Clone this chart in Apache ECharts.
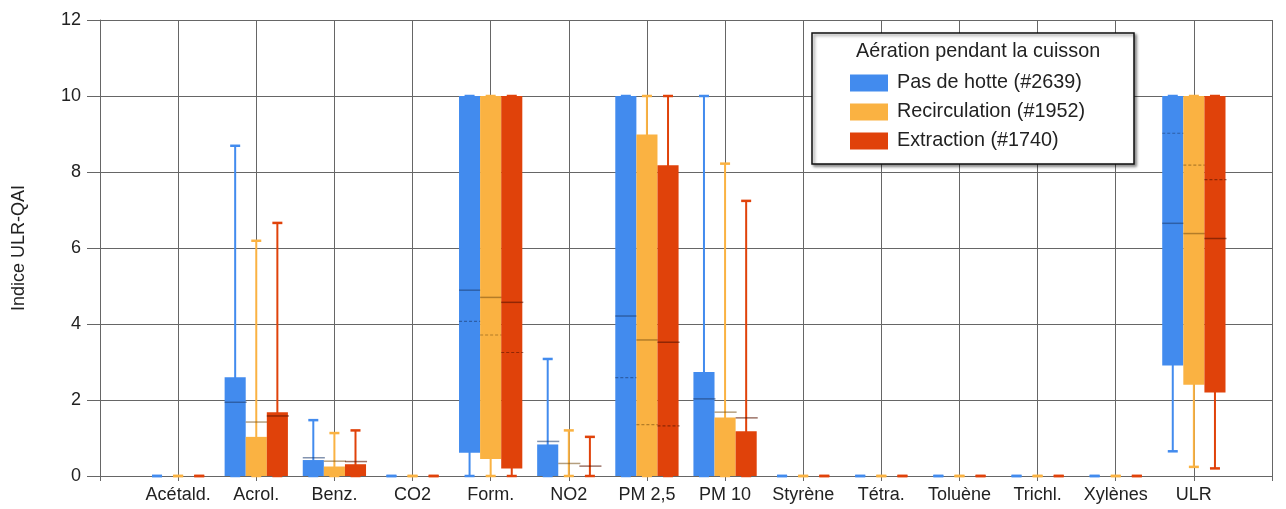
<!DOCTYPE html>
<html>
<head>
<meta charset="utf-8">
<script src="https://cdn.jsdelivr.net/npm/echarts@6/dist/echarts.min.js"></script>
<style>html,body{margin:0;padding:0;background:#fff}#c{width:1286px;height:509px}</style>
</head>
<body>
<div id="c"></div>
<script>
// Categories (index 1..14 on the axis; blank slots at both ends)
const categories = ['Acétald.', 'Acrol.', 'Benz.', 'CO2', 'Form.', 'NO2', 'PM 2,5', 'PM 10', 'Styrène', 'Tétra.', 'Toluène', 'Trichl.', 'Xylènes', 'ULR'];
const seriesNames = ['Pas de hotte (#2639)', 'Recirculation (#1952)', 'Extraction (#1740)'];
const yTicks = [0, 2, 4, 6, 8, 10, 12];

// Each row: [min, q1, q3, max, solid line, dashed line] per category
const pasDeHotte = [
  [0, 0, 0, 0, null, null],
  [0, 0, 2.6, 8.69, 1.94, null],
  [0, 0, 0.42, 1.47, 0.48, null],
  [0, 0, 0, 0, null, null],
  [0, 0.61, 10, 10, 4.89, 4.07],
  [0, 0, 0.83, 3.08, 0.91, null],
  [0, 0, 10, 10, 4.21, 2.59],
  [0, 0, 2.74, 10, 2.03, null],
  [0, 0, 0, 0, null, null],
  [0, 0, 0, 0, null, null],
  [0, 0, 0, 0, null, null],
  [0, 0, 0, 0, null, null],
  [0, 0, 0, 0, null, null],
  [0.65, 2.91, 10, 10, 6.65, 9.02]
];
const recirculation = [
  [0, 0, 0, 0, null, null],
  [0, 0, 1.03, 6.19, 1.42, null],
  [0, 0, 0.25, 1.13, 0.39, null],
  [0, 0, 0, 0, null, null],
  [0, 0.45, 10, 10, 4.70, 3.71],
  [0, 0, 0, 1.2, 0.33, null],
  [0, 0, 8.99, 10, 3.58, 1.35],
  [0, 0, 1.54, 8.22, 1.68, null],
  [0, 0, 0, 0, null, null],
  [0, 0, 0, 0, null, null],
  [0, 0, 0, 0, null, null],
  [0, 0, 0, 0, null, null],
  [0, 0, 0, 0, null, null],
  [0.24, 2.40, 10, 10, 6.38, 8.18]
];
const extraction = [
  [0, 0, 0, 0, null, null],
  [0, 0, 1.68, 6.66, 1.58, null],
  [0, 0, 0.31, 1.2, 0.38, null],
  [0, 0, 0, 0, null, null],
  [0, 0.2, 10, 10, 4.57, 3.25],
  [0, 0, 0, 1.03, 0.26, null],
  [0, 0, 8.18, 10, 3.52, 1.32],
  [0, 0, 1.18, 7.24, 1.53, null],
  [0, 0, 0, 0, null, null],
  [0, 0, 0, 0, null, null],
  [0, 0, 0, 0, null, null],
  [0, 0, 0, 0, null, null],
  [0, 0, 0, 0, null, null],
  [0.2, 2.2, 10, 10, 6.25, 7.8]
];

const colors = ['#428BEE', '#FAB242', '#E0420A'];
const lineColors = ['rgba(30,60,110,0.55)', 'rgba(120,80,20,0.55)', 'rgba(90,20,0,0.6)'];
const FONT = 'Liberation Sans, Arial, sans-serif';

const axisData = [''].concat(categories, ['']);

function buildData(rows) {
  return rows.map((r, i) => [i + 1, r[0], r[1], r[2], r[3], r[4] == null ? NaN : r[4], r[5] == null ? NaN : r[5]]);
}

function makeRender(k) {
  return function (params, api) {
    const idx = api.value(0);
    const vmin = api.value(1), q1 = api.value(2), q3 = api.value(3), vmax = api.value(4);
    const mean = api.value(5), med = api.value(6);
    const bw = api.size([1, 0])[0] * 0.27;
    const cx = api.coord([idx, 0])[0] + (k - 1) * bw;
    const y = v => api.coord([idx, v])[1];
    const col = colors[k];
    const children = [];
    children.push({ type: 'line', shape: { x1: cx, y1: y(vmin), x2: cx, y2: y(vmax) }, style: { stroke: col, lineWidth: 2 } });
    children.push({ type: 'line', shape: { x1: cx - 5, y1: y(vmin), x2: cx + 5, y2: y(vmin) }, style: { stroke: col, lineWidth: 2.5 } });
    children.push({ type: 'line', shape: { x1: cx - 5, y1: y(vmax), x2: cx + 5, y2: y(vmax) }, style: { stroke: col, lineWidth: 2.5 } });
    const top = y(q3), bot = y(q1);
    if (bot - top > 0.5) {
      children.push({ type: 'rect', shape: { x: cx - bw / 2, y: top, width: bw, height: bot - top }, style: { fill: col } });
    }
    if (!isNaN(mean)) {
      children.push({ type: 'line', shape: { x1: cx - bw / 2, y1: y(mean), x2: cx + bw / 2 + 1, y2: y(mean) }, style: { stroke: lineColors[k], lineWidth: 1.5 } });
    }
    if (!isNaN(med)) {
      children.push({ type: 'line', shape: { x1: cx - bw / 2, y1: y(med), x2: cx + bw / 2 + 1, y2: y(med) }, style: { stroke: lineColors[k], lineWidth: 1.2, lineDash: [3, 2] } });
    }
    return { type: 'group', children: children };
  };
}

const allRows = [pasDeHotte, recirculation, extraction];

const chart = echarts.init(document.getElementById('c'), null, { renderer: 'canvas' });
chart.setOption({
  animation: false,
  textStyle: { fontFamily: FONT },
  grid: { left: 100, right: 14, top: 20, bottom: 33, containLabel: false },
  title: {
    text: 'Aération pendant la cuisson',
    left: 856, top: 42, padding: 0,
    textStyle: { fontFamily: FONT, fontSize: 19.8, fontWeight: 'normal', color: '#222' }
  },
  legend: {
    orient: 'vertical', left: 850, top: 73, padding: 0,
    itemWidth: 38, itemHeight: 17, itemGap: 9, icon: 'rect',
    data: seriesNames,
    textStyle: { fontFamily: FONT, fontSize: 19.8, color: '#222', padding: [0, 0, 0, 4] },
    z: 10
  },
  graphic: [{
    type: 'rect', z: 5, silent: true,
    shape: { x: 812, y: 33, width: 322, height: 131 },
    style: { fill: '#fff', stroke: '#111', lineWidth: 1.5, shadowColor: 'rgba(0,0,0,0.45)', shadowBlur: 3, shadowOffsetX: 2, shadowOffsetY: 2 }
  }],
  xAxis: {
    type: 'category', data: axisData, boundaryGap: false,
    axisLine: { show: true, lineStyle: { color: '#666', width: 1 } },
    axisTick: { show: true, length: 5, interval: 0, lineStyle: { color: '#666' } },
    axisLabel: { interval: 0, margin: 10, fontSize: 18, color: '#222', fontFamily: FONT },
    splitLine: { show: true, interval: 0, lineStyle: { color: '#666', width: 1 } }
  },
  yAxis: {
    type: 'value', min: yTicks[0], max: yTicks[yTicks.length - 1], interval: 2,
    name: 'Indice ULR-QAI', nameLocation: 'middle', nameRotate: 90, nameGap: 72,
    nameTextStyle: { fontSize: 18, color: '#222', fontFamily: FONT },
    axisLine: { show: true, lineStyle: { color: '#666', width: 1 } },
    axisTick: { show: true, length: 13, lineStyle: { color: '#666' } },
    axisLabel: { margin: 19, fontSize: 18, color: '#222', fontFamily: FONT },
    splitLine: { show: true, lineStyle: { color: '#666', width: 1 } }
  },
  series: allRows.map((rows, k) => ({
    type: 'custom', name: seriesNames[k],
    itemStyle: { color: colors[k] },
    renderItem: makeRender(k),
    encode: { x: 0, y: [1, 2, 3, 4] },
    data: buildData(rows),
    z: 2
  }))
});
</script>
</body>
</html>
